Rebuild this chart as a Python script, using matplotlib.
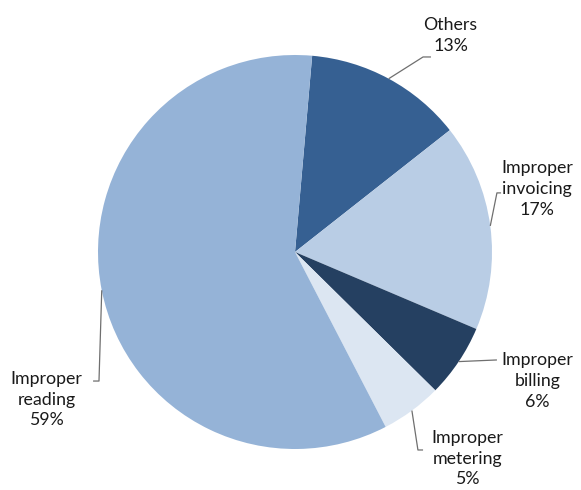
import numpy as np
import matplotlib
matplotlib.use("Agg")
import matplotlib.pyplot as plt

categories = ["Others", "Improper\ninvoicing", "Improper\nbilling",
              "Improper\nmetering", "Improper\nreading"]
shares = [13, 17, 6, 5, 59]
colors = ["#366092", "#B9CDE5", "#254061", "#DCE6F2", "#95B3D7"]

# label text positions and leader-line elbows, in pie units (radius 1)
label_pos = [(0.79, 1.10), (1.23, 0.32), (1.23, -0.655), (0.875, -1.05), (-1.26, -0.75)]
elbows = [[(0.650, 0.990), (0.690, 0.990)],
          [(1.025, 0.300), (1.046, 0.300)],
          [(1.025, -0.548)],
          [(0.624, -1.005), (0.650, -1.005)],
          [(-0.995, -0.655), (-1.025, -0.655)]]

plt.rcParams["font.family"] = ["Lato", "DejaVu Sans"]

fig = plt.figure(figsize=(5.81, 4.90), dpi=100)
ax = fig.add_axes([0, 0, 1, 1])
wedges, _ = ax.pie(shares, colors=colors, startangle=85, counterclock=False,
                   radius=1.0, center=(0, 0), wedgeprops=dict(linewidth=0))

for w, cat, val, pos, pts in zip(wedges, categories, shares, label_pos, elbows):
    mid = np.deg2rad((w.theta1 + w.theta2) / 2)
    xs = [np.cos(mid)] + [p[0] for p in pts]
    ys = [np.sin(mid)] + [p[1] for p in pts]
    ax.plot(xs, ys, color="#6f6f6f", lw=0.9, solid_capstyle="butt")
    ax.text(pos[0], pos[1], f"{cat}\n{val}%", ha="center", va="center",
            fontsize=12.8, color="#1a1a1a", linespacing=1.35)

ax.set_xlim(-295 / 197, 286 / 197)
ax.set_ylim(-238 / 197, 252 / 197)
ax.set_aspect("equal", adjustable="datalim")
ax.axis("off")

fig.savefig("out.png", dpi=100, facecolor="white")
